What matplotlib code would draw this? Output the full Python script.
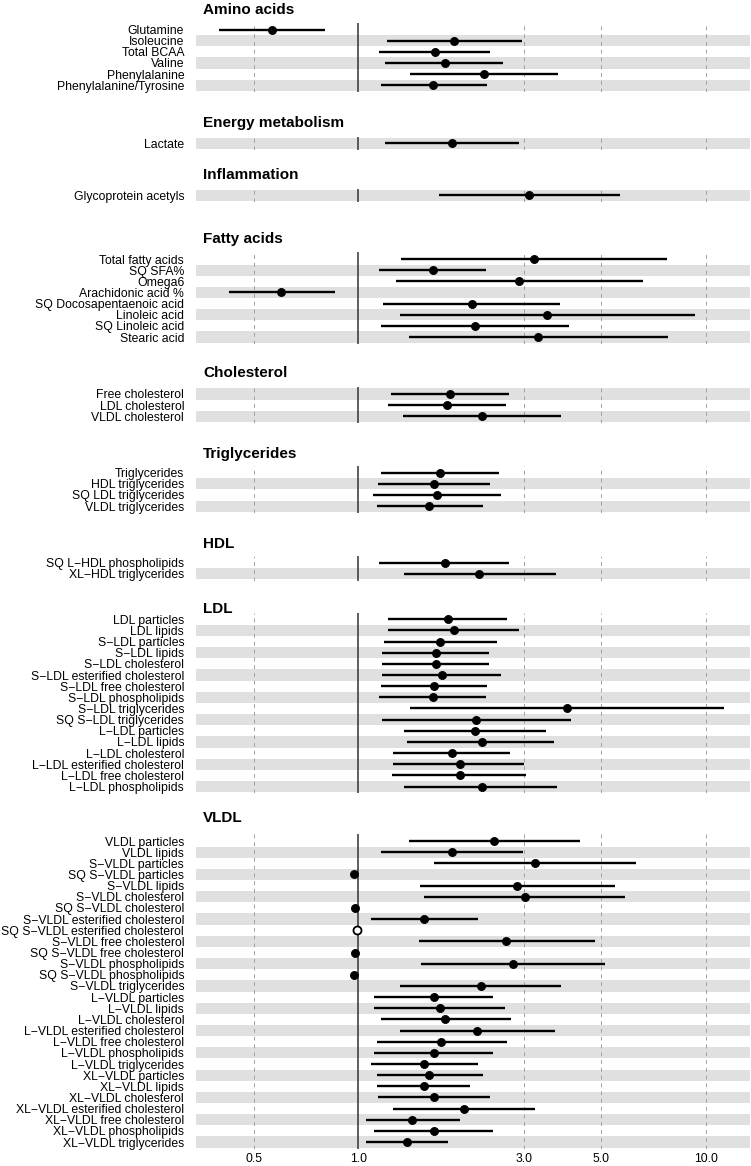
import matplotlib.pyplot as plt
import numpy as np

plt.rcParams['font.family'] = ['Liberation Sans', 'DejaVu Sans']

nan = np.nan

# ---- data: estimate with lower / upper CI, per group (top to bottom) ----
amino_labels = ['Glutamine', 'Isoleucine', 'Total BCAA', 'Valine', 'Phenylalanine',
                'Phenylalanine/Tyrosine']
amino_est = [0.565, 1.89, 1.66, 1.77, 2.30, 1.64]
amino_lo = [0.398, 1.21, 1.15, 1.195, 1.41, 1.16]
amino_hi = [0.80, 2.95, 2.40, 2.60, 3.76, 2.34]

energy_labels = ['Lactate']
energy_est = [1.86]
energy_lo = [1.195]
energy_hi = [2.90]

inflam_labels = ['Glycoprotein acetyls']
inflam_est = [3.10]
inflam_lo = [1.71]
inflam_hi = [5.68]

fatty_labels = ['Total fatty acids', 'SQ SFA%', 'Omega6', 'Arachidonic acid %',
                'SQ Docosapentaenoic acid', 'Linoleic acid', 'SQ Linoleic acid', 'Stearic acid']
fatty_est = [3.20, 1.64, 2.89, 0.60, 2.12, 3.49, 2.16, 3.29]
fatty_lo = [1.33, 1.15, 1.28, 0.424, 1.18, 1.32, 1.16, 1.40]
fatty_hi = [7.71, 2.33, 6.58, 0.856, 3.81, 9.29, 4.04, 7.80]

chol_labels = ['Free cholesterol', 'LDL cholesterol', 'VLDL cholesterol']
chol_est = [1.83, 1.80, 2.27]
chol_lo = [1.245, 1.22, 1.34]
chol_hi = [2.71, 2.66, 3.83]

trig_labels = ['Triglycerides', 'HDL triglycerides', 'SQ LDL triglycerides',
               'VLDL triglycerides']
trig_est = [1.715, 1.65, 1.68, 1.60]
trig_lo = [1.16, 1.14, 1.10, 1.13]
trig_hi = [2.54, 2.39, 2.58, 2.28]

hdl_labels = ['SQ L-HDL phospholipids', 'XL-HDL triglycerides']
hdl_est = [1.77, 2.22]
hdl_lo = [1.15, 1.35]
hdl_hi = [2.72, 3.71]

ldl_labels = ['LDL particles', 'LDL lipids', 'S-LDL particles', 'S-LDL lipids',
              'S-LDL cholesterol', 'S-LDL esterified cholesterol', 'S-LDL free cholesterol',
              'S-LDL phospholipids', 'S-LDL triglycerides', 'SQ S-LDL triglycerides',
              'L-LDL particles', 'L-LDL lipids', 'L-LDL cholesterol',
              'L-LDL esterified cholesterol', 'L-LDL free cholesterol', 'L-LDL phospholipids']
ldl_est = [1.81, 1.88, 1.72, 1.67, 1.67, 1.74, 1.65, 1.64, 3.99, 2.18,
           2.16, 2.275, 1.86, 1.96, 1.96, 2.275]
ldl_lo = [1.22, 1.22, 1.185, 1.17, 1.17, 1.17, 1.16, 1.15, 1.41, 1.17,
          1.355, 1.38, 1.26, 1.26, 1.25, 1.355]
ldl_hi = [2.67, 2.89, 2.50, 2.37, 2.37, 2.57, 2.34, 2.33, 11.3, 4.08,
          3.46, 3.66, 2.74, 3.00, 3.03, 3.73]

vldl_labels = ['VLDL particles', 'VLDL lipids', 'S-VLDL particles', 'SQ S-VLDL particles',
               'S-VLDL lipids', 'S-VLDL cholesterol', 'SQ S-VLDL cholesterol',
               'S-VLDL esterified cholesterol', 'SQ S-VLDL esterified cholesterol',
               'S-VLDL free cholesterol', 'SQ S-VLDL free cholesterol',
               'S-VLDL phospholipids', 'SQ S-VLDL phospholipids', 'S-VLDL triglycerides',
               'L-VLDL particles', 'L-VLDL lipids', 'L-VLDL cholesterol',
               'L-VLDL esterified cholesterol', 'L-VLDL free cholesterol',
               'L-VLDL phospholipids', 'L-VLDL triglycerides', 'XL-VLDL particles',
               'XL-VLDL lipids', 'XL-VLDL cholesterol', 'XL-VLDL esterified cholesterol',
               'XL-VLDL free cholesterol', 'XL-VLDL phospholipids', 'XL-VLDL triglycerides']
vldl_est = [2.46, 1.86, 3.22, 0.969, 2.86, 3.01, 0.978, 1.55, 0.99, 2.66, 0.978,
            2.78, 0.969, 2.25, 1.65, 1.72, 1.78, 2.20, 1.73, 1.65, 1.55, 1.60,
            1.54, 1.65, 2.01, 1.43, 1.65, 1.38]
vldl_lo = [1.40, 1.16, 1.65, nan, 1.50, 1.55, nan, 1.09, nan, 1.49, nan,
           1.51, nan, 1.32, 1.11, 1.11, 1.16, 1.32, 1.13, 1.11, 1.09, 1.13,
           1.13, 1.14, 1.26, 1.05, 1.11, 1.05]
vldl_hi = [4.35, 2.97, 6.29, nan, 5.47, 5.86, nan, 2.21, nan, 4.80, nan,
           5.11, nan, 3.82, 2.44, 2.64, 2.75, 3.67, 2.67, 2.44, 2.21, 2.28,
           2.10, 2.39, 3.22, 1.96, 2.44, 1.81]
vldl_open = [False] * 8 + [True] + [False] * 19

titles = ['Amino acids', 'Energy metabolism', 'Inflammation', 'Fatty acids',
          'Cholesterol', 'Triglycerides', 'HDL', 'LDL', 'VLDL']
groups = [
    (amino_labels, amino_est, amino_lo, amino_hi, None),
    (energy_labels, energy_est, energy_lo, energy_hi, None),
    (inflam_labels, inflam_est, inflam_lo, inflam_hi, None),
    (fatty_labels, fatty_est, fatty_lo, fatty_hi, None),
    (chol_labels, chol_est, chol_lo, chol_hi, None),
    (trig_labels, trig_est, trig_lo, trig_hi, None),
    (hdl_labels, hdl_est, hdl_lo, hdl_hi, None),
    (ldl_labels, ldl_est, ldl_lo, ldl_hi, None),
    (vldl_labels, vldl_est, vldl_lo, vldl_hi, vldl_open),
]
x_ticks = [0.5, 1.0, 3.0, 5.0, 10.0]

# ---- layout (pixels from top of the image) ----
W, H = 751, 1166
row_h = 11.15
first_row_px = [29.5, 143.5, 195.5, 259, 394, 472.7, 562.7, 619.3, 841]
title_px = [10, 122.5, 175, 239, 373, 454, 544, 609, 818]
ax_left, ax_right = 196, 750

fig = plt.figure(figsize=(W / 100, H / 100), dpi=100)

for k, (labels, est, lo, hi, open_) in enumerate(groups):
    n = len(labels)
    top = first_row_px[k] - 0.6 * row_h
    height = (n + 0.2) * row_h
    ax = fig.add_axes([ax_left / W, 1 - (top + height) / H,
                       (ax_right - ax_left) / W, height / H])
    y = np.arange(n, 0, -1)

    # alternating grey stripes, counted from the bottom row
    for yy in y:
        if yy % 2 == 1:
            ax.axhspan(yy - 0.5, yy + 0.5, color='#e0e0e0', lw=0, zorder=0)
    for t in x_ticks:
        if t == 1.0:
            ax.axvline(t, color='#333333', lw=1.1, zorder=1)
        else:
            ax.axvline(t, color='#a0a0a0', lw=0.7, ls=(0, (4, 4)), zorder=1)

    ax.hlines(y, lo, hi, color='black', lw=1.7, zorder=2)
    for i in range(n):
        hollow = open_ is not None and open_[i]
        ax.plot(est[i], y[i], 'o', ms=5.8, mec='black', mew=1.3 if hollow else 0.6,
                mfc='white' if hollow else 'black', zorder=3)

    ax.set_xscale('log')
    ax.set_xlim(0.341, 13.4)
    ax.set_ylim(0.4, n + 0.6)
    ax.set_yticks(y)
    ax.set_yticklabels([s.replace('-', '\u2212') for s in labels], fontsize=8.8)
    ax.tick_params(axis='y', length=0, pad=8.5)
    ax.minorticks_off()
    ax.set_xticks(x_ticks)
    if k == len(groups) - 1:
        ax.set_xticklabels(['%.1f' % t for t in x_ticks], fontsize=8.8)
        ax.tick_params(axis='x', length=0, pad=3)
    else:
        ax.tick_params(axis='x', length=0, labelbottom=False)
    for s in ax.spines.values():
        s.set_visible(False)

    fig.text(203 / W, 1 - title_px[k] / H, titles[k], fontsize=11, fontweight='bold',
             ha='left', va='center')

fig.savefig('out.png', dpi=100)
